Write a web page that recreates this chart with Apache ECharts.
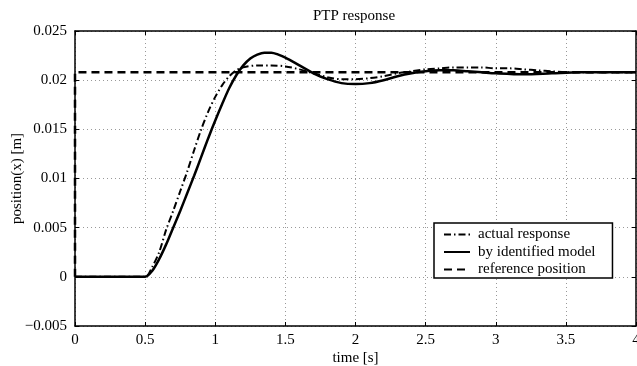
<!DOCTYPE html>
<html><head><meta charset="utf-8">
<script src="https://cdn.jsdelivr.net/npm/echarts@6/dist/echarts.min.js"></script>
<style>html,body{margin:0;padding:0;background:#fff}#c{width:637px;height:366px}</style>
</head><body><div id="c"></div>
<script>
const title = 'PTP response';
const xName = 'time [s]';
const yName = 'position(x) [m]';
const seriesNames = ['actual response', 'by identified model', 'reference position'];

const actualT = [0, 0.5, 0.55, 0.6, 0.65, 0.7, 0.75, 0.8, 0.85, 0.9, 0.95, 1.0, 1.05, 1.1, 1.15, 1.2, 1.3, 1.4, 1.5, 1.6, 1.7, 1.8, 1.9, 2.0, 2.1, 2.2, 2.3, 2.4, 2.5, 2.6, 2.7, 2.8, 2.9, 3.0, 3.1, 3.2, 3.3, 3.4, 3.5, 3.7, 4.0];
const actualY = [0, 0, 0.001, 0.0025, 0.0048, 0.0067, 0.0087, 0.0107, 0.0129, 0.015, 0.0168, 0.0183, 0.0195, 0.0204, 0.021, 0.0213, 0.0215, 0.0215, 0.0214, 0.0211, 0.0207, 0.0203, 0.0201, 0.0201, 0.0202, 0.0204, 0.0207, 0.0209, 0.0211, 0.0212, 0.0213, 0.0213, 0.0213, 0.0212, 0.0212, 0.0211, 0.021, 0.0209, 0.0208, 0.0208, 0.0208];

const modelT = [0, 0.5, 0.55, 0.6, 0.65, 0.7, 0.75, 0.8, 0.85, 0.9, 0.95, 1.0, 1.05, 1.1, 1.15, 1.2, 1.25, 1.3, 1.35, 1.4, 1.45, 1.5, 1.6, 1.7, 1.8, 1.9, 2.0, 2.1, 2.2, 2.3, 2.4, 2.5, 2.6, 2.7, 2.8, 2.9, 3.0, 3.2, 3.4, 3.6, 4.0];
const modelY = [0, 0, 0.0006, 0.0018, 0.0033, 0.005, 0.0067, 0.0085, 0.0103, 0.0122, 0.0141, 0.0159, 0.0176, 0.0192, 0.0205, 0.0215, 0.0222, 0.0226, 0.0228, 0.0228, 0.0226, 0.0223, 0.0215, 0.0207, 0.0201, 0.0197, 0.0196, 0.0197, 0.02, 0.0204, 0.0207, 0.0209, 0.021, 0.021, 0.0209, 0.0208, 0.0207, 0.0206, 0.0207, 0.0208, 0.0208];

const refT = [0, 0, 4];
const refY = [0, 0.0208, 0.0208];

const zip = (a, b) => a.map((v, i) => [v, b[i]]);
const font = '"Liberation Serif", "DejaVu Serif", serif';
const FS = 15;
const fmtY = v => {
  const r = Math.round(v * 1000) / 1000;
  const s = String(Math.abs(r));
  return (r < 0 ? '\u2212' : '') + s;
};

const chart = echarts.init(document.getElementById('c'), null, {renderer: 'canvas'});
const tickStyle = {show: true, inside: true, length: 4, lineStyle: {color: '#000', width: 1}};
const dashDot = [7, 3, 1.5, 3];
const dashed = [8, 5];
chart.setOption({
  animation: false,
  backgroundColor: '#fff',
  textStyle: {fontFamily: font},
  title: {text: title, left: 349, textAlign: 'center', top: 4,
    textStyle: {fontFamily: font, fontSize: FS, fontWeight: 'normal', color: '#000'}},
  grid: {left: 75, right: 1, top: 31, bottom: 40, containLabel: false, outerBoundsMode: 'none'},
  legend: {
    orient: 'vertical', left: 434, top: 223,
    backgroundColor: '#fff', borderColor: '#000', borderWidth: 1.5,
    padding: [4, 17, 1, 9], itemGap: 2.5, itemWidth: 26, itemHeight: 15,
    itemStyle: {opacity: 0},
    textStyle: {fontFamily: font, fontSize: FS, lineHeight: 15, color: '#000', padding: [0, 0, 0, 3]},
    data: seriesNames
  },
  xAxis: [{
    type: 'value', min: 0, max: 4, interval: 0.5, position: 'bottom',
    name: xName, nameLocation: 'middle', nameGap: 25, nameMoveOverlap: false,
    nameTextStyle: {fontFamily: font, fontSize: FS, color: '#000'},
    axisLine: {show: true, onZero: false, lineStyle: {color: '#000', width: 1.5}},
    axisTick: tickStyle,
    axisLabel: {color: '#000', fontFamily: font, fontSize: FS, margin: 7, formatter: v => String(v)},
    splitLine: {show: true, lineStyle: {color: '#999', type: [1, 3], width: 1}}
  }, {
    type: 'value', min: 0, max: 4, interval: 0.5, position: 'top',
    axisLine: {show: true, onZero: false, lineStyle: {color: '#000', width: 1.5}},
    axisTick: tickStyle, axisLabel: {show: false}, splitLine: {show: false}
  }],
  yAxis: [{
    type: 'value', min: -0.005, max: 0.025, interval: 0.005, position: 'left',
    name: yName, nameLocation: 'middle', nameGap: 50, nameRotate: 90, nameMoveOverlap: false,
    nameTextStyle: {fontFamily: font, fontSize: FS, color: '#000'},
    axisLine: {show: true, onZero: false, lineStyle: {color: '#000', width: 1.5}},
    axisTick: tickStyle,
    axisLabel: {color: '#000', fontFamily: font, fontSize: FS, margin: 8, formatter: fmtY},
    splitLine: {show: true, lineStyle: {color: '#999', type: [1, 3], width: 1}}
  }, {
    type: 'value', min: -0.005, max: 0.025, interval: 0.005, position: 'right',
    axisLine: {show: true, onZero: false, lineStyle: {color: '#000', width: 1.5}},
    axisTick: tickStyle, axisLabel: {show: false}, splitLine: {show: false}
  }],
  series: [
    {name: seriesNames[0], type: 'line', data: zip(actualT, actualY), smooth: 0.3, symbol: 'none',
     lineStyle: {color: '#000', width: 2, type: dashDot}, itemStyle: {color: '#000'}, z: 3},
    {name: seriesNames[1], type: 'line', data: zip(modelT, modelY), smooth: 0.3, symbol: 'none',
     lineStyle: {color: '#000', width: 2.5, type: 'solid'}, itemStyle: {color: '#000'}, z: 4},
    {name: seriesNames[2], type: 'line', data: zip(refT, refY), symbol: 'none',
     lineStyle: {color: '#000', width: 2.5, type: dashed}, itemStyle: {color: '#000'}, z: 2}
  ]
});
</script></body></html>
